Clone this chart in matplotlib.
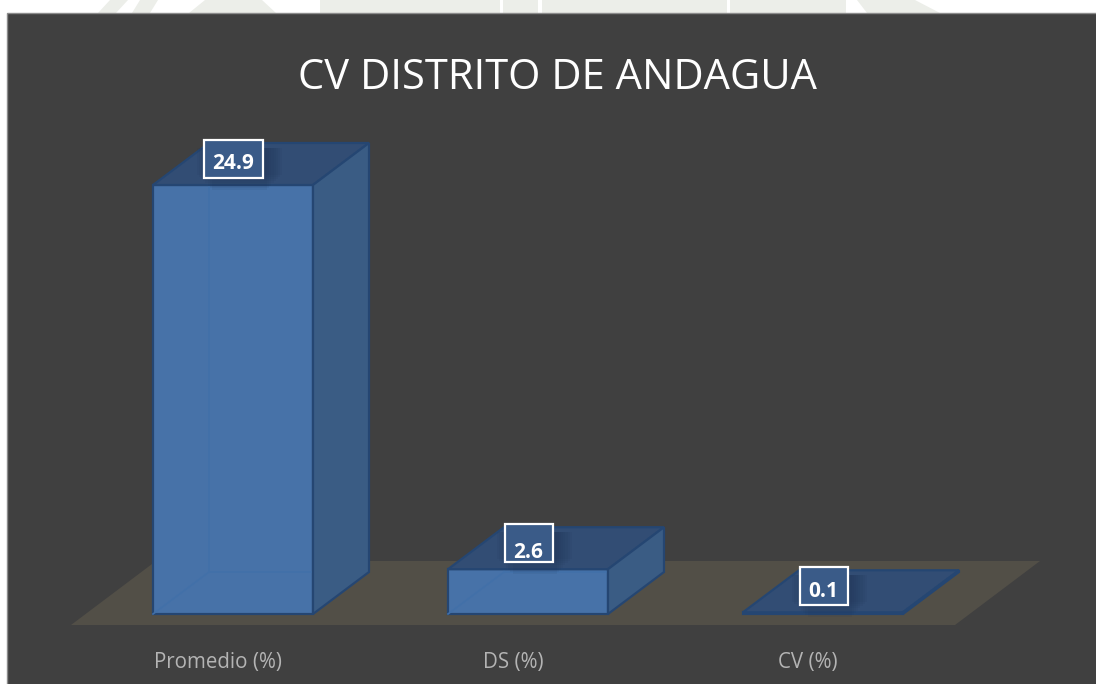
import matplotlib
matplotlib.use("Agg")
import matplotlib.pyplot as plt
from matplotlib.patches import Polygon, Rectangle

categories = ["Promedio (%)", "DS (%)", "CV (%)"]
values = [24.9, 2.6, 0.1]
labels = ["24.9", "2.6", "0.1"]

W, H = 1096, 684
PX_X = 295.0    # pixels per category
PX_Y = 17.23    # pixels per unit
X0, Y0 = 233, 614
bar_w = 160 / PX_X
dx = 56 / PX_X
dy = 42 / PX_Y

plt.rcParams["font.family"] = ["Open Sans", "DejaVu Sans"]

fig = plt.figure(figsize=(W / 100, H / 100), dpi=100, facecolor="white")
ax = fig.add_axes([0, 0, 1, 1])
ax.set_xlim(-X0 / PX_X, (W - X0) / PX_X)
ax.set_ylim(-(H - Y0) / PX_Y, Y0 / PX_Y)
ax.axis("off")


def px(x, y):
    return ((x - X0) / PX_X, (Y0 - y) / PX_Y)


# watermark peeking out above the panel
for a, b, c, d in [(98, 116, 128, 110), (132, 150, 158, 140), (189, 276, 262, 205), (320, 500, 500, 320),
                   (503, 538, 538, 503), (542, 727, 727, 542), (730, 846, 846, 730), (867, 940, 915, 857)]:
    ax.add_patch(Polygon([px(a, 13), px(b, 13), px(c, 0), px(d, 0)], fc="#eceee9", ec="none", zorder=0.5))

# panel
ax.add_patch(Polygon([px(7, 13), px(W + 5, 13), px(W + 5, H + 5), px(7, H + 5)], fc="#404040", ec="#8c8c8c", lw=1, zorder=1))
# floor
ax.add_patch(Polygon([px(71, 625), px(955, 625), px(1040, 561), px(156, 561)], fc="#524f47", ec="none", zorder=2))

edge = "#254672"
box_w = [59, 48, 48]
for i, (cat, v, lab) in enumerate(zip(categories, values, labels)):
    l = i - bar_w / 2
    r = i + bar_w / 2
    # front
    ax.add_patch(Rectangle((l, 0), bar_w, v, fc="#4772a8", ec=edge, lw=1.6, zorder=4, joinstyle="miter"))
    # back edges seen through the front
    if v > dy:
        ax.plot([l, l + dx, r], [0, dy, dy], color="#4270a8", lw=1.2, zorder=4.5)
        ax.plot([l + dx, l + dx], [dy, v], color="#4270a8", lw=1.2, zorder=4.5)
    # top
    ax.add_patch(Polygon([(l, v), (r, v), (r + dx, v + dy), (l + dx, v + dy)], fc="#324d74", ec=edge, lw=1.6, zorder=5))
    # side
    ax.add_patch(Polygon([(r, 0), (r + dx, dy), (r + dx, v + dy), (r, v)], fc="#3a5c84", ec=edge, lw=1.6, zorder=5))

    # value label box, with its soft shadow
    bw = box_w[i] / PX_X
    bh = 38 / PX_Y
    bx = i + 0.002 - bw / 2
    by = v + 26 / PX_Y - bh / 2
    for k in range(8):
        g = k * 2.2
        ax.add_patch(Rectangle((bx + (8 - g) / PX_X, by - (12 - g) / PX_Y), bw + (2 * g - 4) / PX_X, bh + (4 - g) / PX_Y,
                               fc="#1c3050", ec="none", alpha=0.07, zorder=6))
    ax.add_patch(Rectangle((bx, by), bw, bh, fc="#3a5b88", ec="white", lw=1.6, zorder=7))
    off = [5, 9, 5][i] / PX_Y
    ax.text(i + 0.002, by + bh / 2 - off, lab, color="white", fontsize=15, fontweight="bold",
            ha="center", va="center", zorder=8)
    ax.text(i - 15 / PX_X, -54 / PX_Y, cat, color="#b4b4b4", fontsize=14.8, ha="center", va="baseline", zorder=8)

ax.text(*px(558, 89), "CV DISTRITO DE ANDAGUA", color="white", fontsize=30, ha="center", va="baseline", zorder=8)

fig.savefig("out.png", dpi=100, facecolor="white")
